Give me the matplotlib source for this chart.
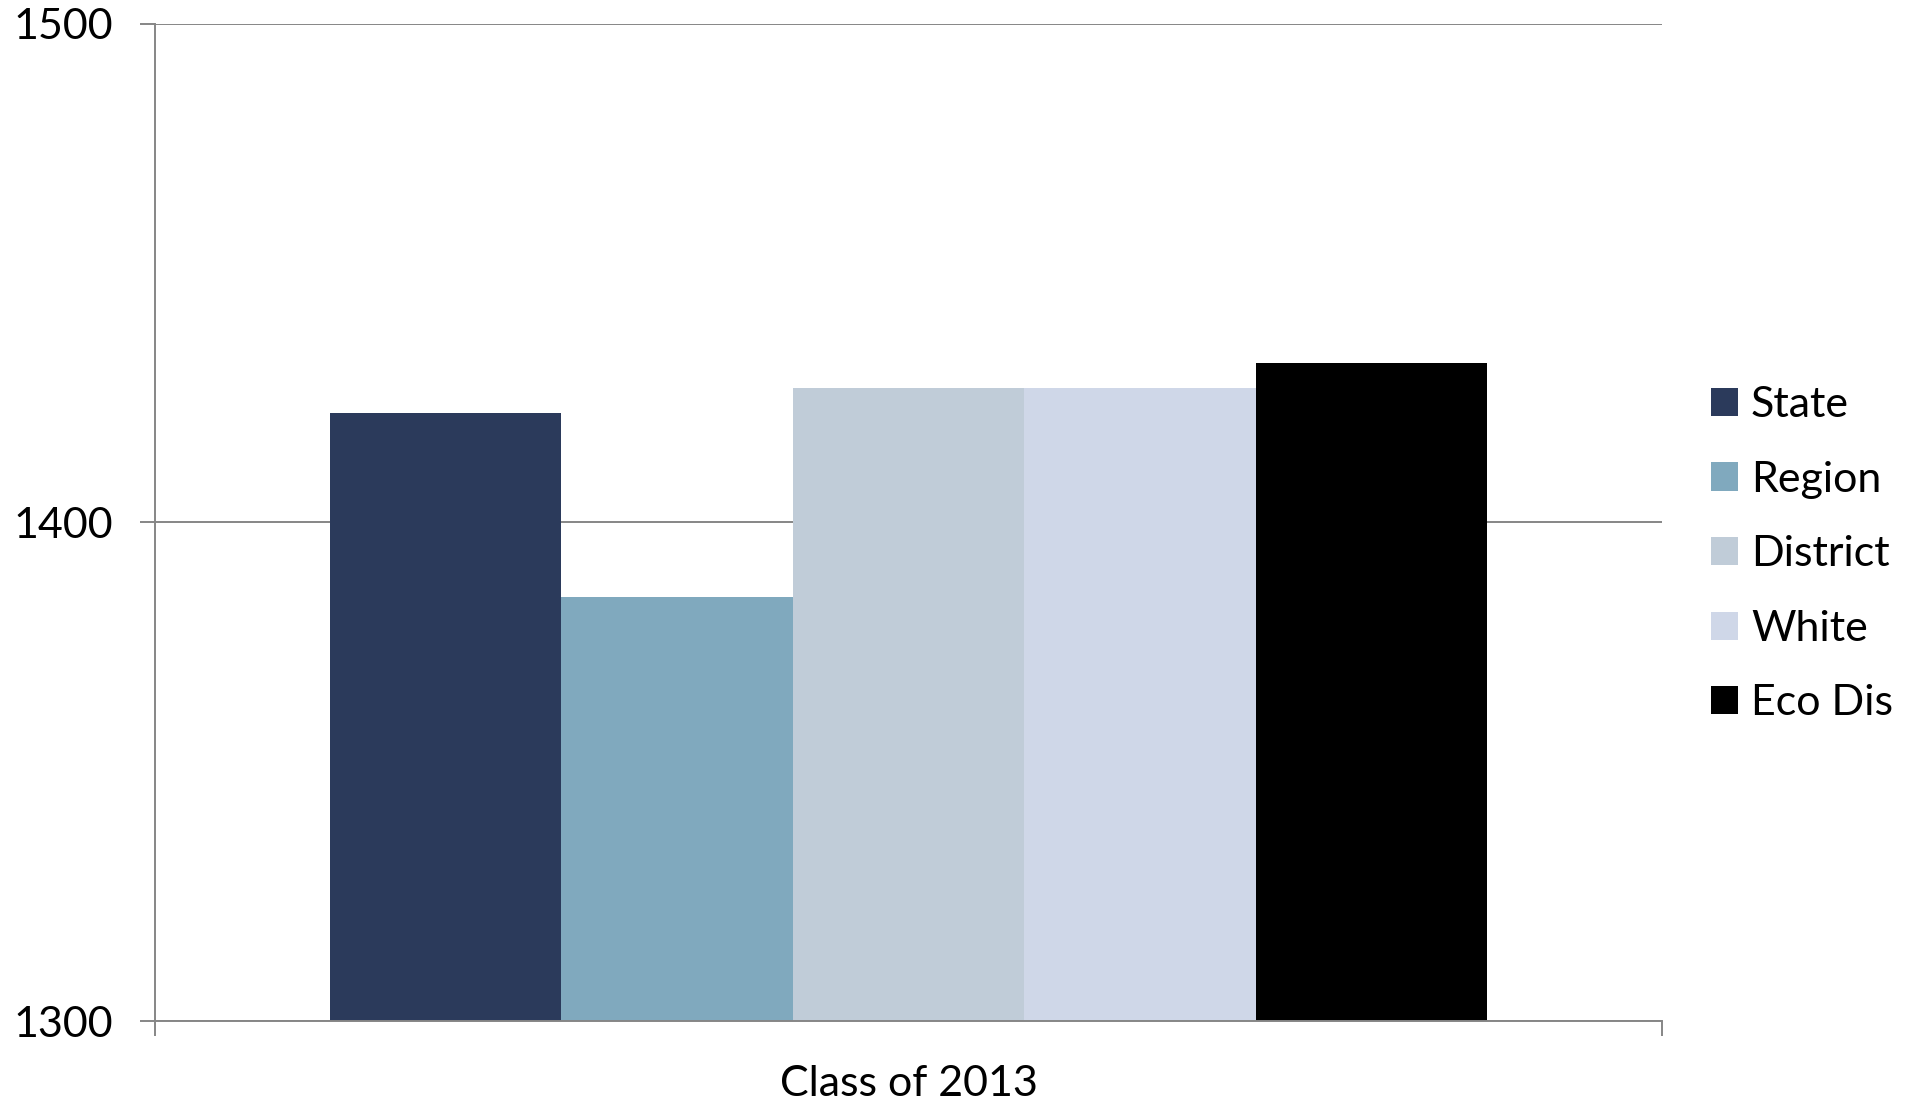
import numpy as np
import matplotlib.pyplot as plt

# data
category = "Class of 2013"
series = ["State", "Region", "District", "White", "Eco Dis"]
values = [1422, 1385, 1427, 1427, 1432]
colors = ["#2B3A5B", "#80A9BE", "#C0CCD8", "#CFD7E8", "#000000"]
yticks = [1300, 1400, 1500]

plt.rcParams['font.family'] = ['Lato', 'DejaVu Sans']
FS = 31

fig = plt.figure(figsize=(19.15, 11.05), dpi=100)
ax = fig.add_axes([0.0809, 0.076, 0.787, 0.9027])

n = len(series)
group = 0.768
w = group / n
x0 = -group / 2 + w / 2
for i, (name, v, c) in enumerate(zip(series, values, colors)):
    ax.bar(x0 + i * w, v - yticks[0], width=w, bottom=yticks[0], color=c,
           label=name, zorder=3, linewidth=0)

grid_col = "#868686"
ax.set_xlim(-0.5, 0.5)
ax.set_ylim(yticks[0], yticks[-1])
ax.set_yticks(yticks)
ax.yaxis.grid(True, color=grid_col, linewidth=1.4, zorder=1)
ax.set_axisbelow(True)

for s in ["top", "right"]:
    ax.spines[s].set_visible(False)
for s in ["left", "bottom"]:
    ax.spines[s].set_color(grid_col)
    ax.spines[s].set_linewidth(1.4)
    ax.spines[s].set_zorder(4)

ax.tick_params(axis="y", length=11, width=1.4, color=grid_col, pad=19,
               labelsize=FS, labelcolor="black")
ax.set_xticks([0])
ax.set_xticklabels([category])
ax.set_xticks([-0.5, 0.5], minor=True)
ax.tick_params(axis="x", which="major", length=0, pad=32, labelsize=FS)
ax.tick_params(axis="x", which="minor", length=11, width=1.4, color=grid_col)

ax.legend(loc="center left", bbox_to_anchor=(1.0325, 0.468), frameon=False,
          fontsize=FS, handlelength=0.63, handleheight=0.63, handletextpad=0.3,
          labelspacing=0.85, borderaxespad=0, borderpad=0)

fig.savefig("out.png", dpi=100)
